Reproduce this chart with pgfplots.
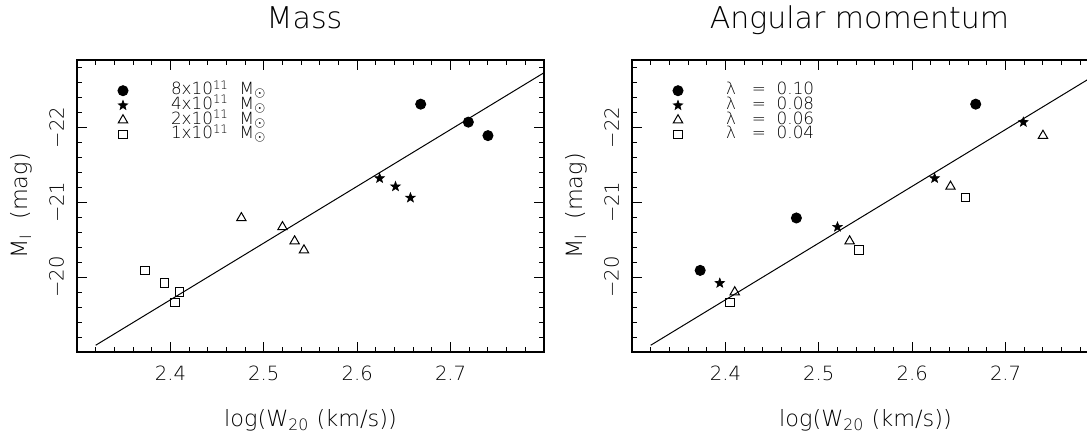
\documentclass[border=0pt]{standalone}
\usepackage{fontspec}
\IfFontExistsTF{DejaVu Sans ExtraLight}{\setmainfont{DejaVu Sans ExtraLight}}{\setmainfont{DejaVu Sans}}
\usepackage{pgfplots}
\pgfplotsset{compat=1.18}

% filled five-point star
\pgfdeclareplotmark{fstar}{%
  \pgfpathmoveto{\pgfpointpolar{90}{\pgfplotmarksize}}%
  \pgfpathlineto{\pgfpointpolar{126}{0.42*\pgfplotmarksize}}%
  \pgfpathlineto{\pgfpointpolar{162}{\pgfplotmarksize}}%
  \pgfpathlineto{\pgfpointpolar{198}{0.42*\pgfplotmarksize}}%
  \pgfpathlineto{\pgfpointpolar{234}{\pgfplotmarksize}}%
  \pgfpathlineto{\pgfpointpolar{270}{0.42*\pgfplotmarksize}}%
  \pgfpathlineto{\pgfpointpolar{306}{\pgfplotmarksize}}%
  \pgfpathlineto{\pgfpointpolar{342}{0.42*\pgfplotmarksize}}%
  \pgfpathlineto{\pgfpointpolar{18}{\pgfplotmarksize}}%
  \pgfpathlineto{\pgfpointpolar{54}{0.42*\pgfplotmarksize}}%
  \pgfpathclose
  \pgfusepathqfillstroke
}

\pgfplotsset{
  lgimg/.style={legend image code/.code={%
      \draw[##1] plot coordinates {(0pt,0pt)};
      \path[draw=none, fill=none] (-3pt,-3.6pt) rectangle (24pt,3.6pt);}},
  circ/.style={only marks, mark=*, mark size=2.5pt, mark options={fill=black, line width=0.5pt}, lgimg},
  star/.style={only marks, mark=fstar, mark size=2.5pt, mark options={fill=black, line width=0.3pt}, lgimg},
  tri/.style={only marks, mark=triangle, mark size=2.7pt, mark options={line width=0.5pt}, lgimg},
  sq/.style={only marks, mark=square, mark size=2.1pt, mark options={line width=0.5pt}, lgimg},
  panel/.style={
    scale only axis, width=233.5pt, height=146pt, anchor=south west,
    xmin=2.3, xmax=2.8, ymin=-22.9, ymax=-19.0, y dir=reverse,
    xtick={2.4,2.5,2.6,2.7}, xticklabels={2.4,2.5,2.6,2.7},
    minor xtick={2.32,2.34,...,2.78},
    ytick={-22,-21,-20}, yticklabels={−22,−21,−20},
    minor ytick={-22.8,-22.6,...,-19.2},
    tick align=inside, major tick length=5pt, minor tick length=2.5pt,
    tick style={black, line width=0.5pt},
    axis line style={line width=0.6pt},
    ticklabel style={font=\fontsize{9.8}{11}\selectfont},
    xticklabel shift=3.2pt,
    yticklabel style={rotate=90, anchor=south},
    yticklabel shift=3pt,
    xlabel={log(W\textsubscript{20} (km/s))},
    ylabel={M\textsubscript{I}\ \ (mag)},
    label style={font=\fontsize{11.2}{13}\selectfont},
    xlabel style={at={(axis description cs:0.5,0)}, anchor=north, yshift=-25pt},
    ylabel style={at={(axis description cs:-0.12,0.5)}, anchor=center},
    title style={at={(axis description cs:0.5,1)}, anchor=base, yshift=9.5pt, xshift=-3pt,
      font=\fontsize{15}{18}\selectfont},
    legend cell align=left,
    legend style={draw=none, fill=none, inner sep=0pt, outer sep=0pt,
      row sep=0.15pt, column sep=0pt,
      nodes={inner sep=0pt, text height=5.6pt, text depth=1.6pt,
        font=\fontsize{8.4}{10}\selectfont},
      at={(axis description cs:0,1)}, anchor=north west,
      xshift=20pt, yshift=-11.75pt},
  },
}

\begin{document}
\begin{tikzpicture}
\begin{axis}[panel, at={(38.5pt,40.5pt)}, title={Mass}]
  \addplot[no marks, line width=0.5pt, forget plot] coordinates {(2.32,-19.09) (2.8,-22.73)};
  \addplot[circ] coordinates {(2.668,-22.31) (2.719,-22.07) (2.740,-21.89)};
  \addplot[star] coordinates {(2.624,-21.32) (2.641,-21.21) (2.657,-21.06)};
  \addplot[tri] coordinates {(2.476,-20.79) (2.520,-20.67) (2.533,-20.48) (2.543,-20.36)};
  \addplot[sq] coordinates {(2.373,-20.09) (2.394,-19.92) (2.410,-19.80) (2.405,-19.66)};
  \legend{8x10\textsuperscript{11}\ \ M$_{\odot}$, 4x10\textsuperscript{11}\ \ M$_{\odot}$,
          2x10\textsuperscript{11}\ \ M$_{\odot}$, 1x10\textsuperscript{11}\ \ M$_{\odot}$}
\end{axis}
\begin{axis}[panel, at={(316pt,40.5pt)}, title={Angular momentum}]
  \addplot[no marks, line width=0.5pt, forget plot] coordinates {(2.32,-19.09) (2.8,-22.73)};
  \addplot[circ] coordinates {(2.373,-20.09) (2.476,-20.79) (2.668,-22.31)};
  \addplot[star] coordinates {(2.394,-19.92) (2.520,-20.67) (2.624,-21.32) (2.719,-22.07)};
  \addplot[tri] coordinates {(2.410,-19.80) (2.533,-20.48) (2.641,-21.21) (2.740,-21.89)};
  \addplot[sq] coordinates {(2.405,-19.66) (2.543,-20.36) (2.657,-21.06)};
  \legend{λ\ \ \ =\ \ 0.10, λ\ \ \ =\ \ 0.08, λ\ \ \ =\ \ 0.06, λ\ \ \ =\ \ 0.04}
\end{axis}
\pgfresetboundingbox
\path[use as bounding box] (0,0) rectangle (543.5pt,216.5pt);
\end{tikzpicture}
\end{document}
